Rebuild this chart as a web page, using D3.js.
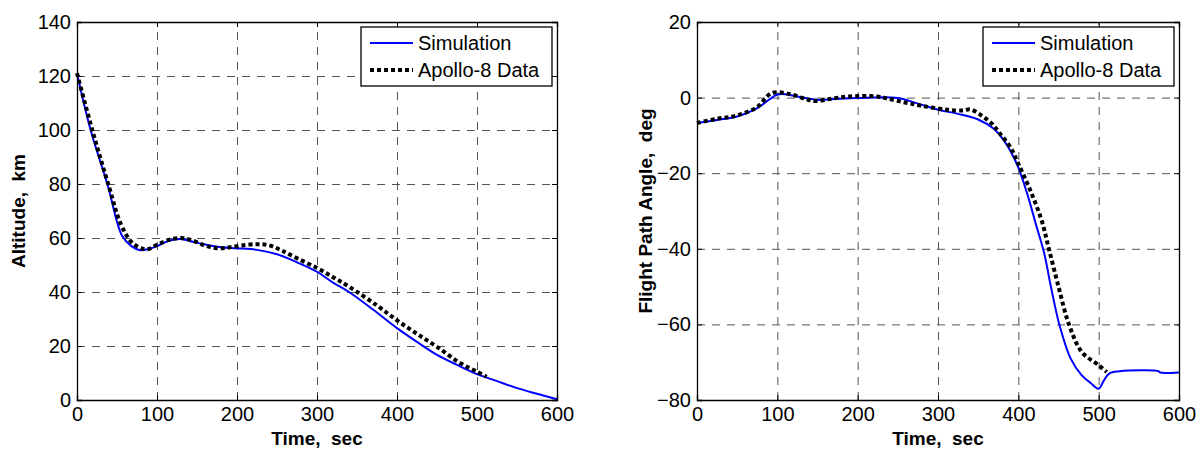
<!DOCTYPE html>
<html>
<head>
<meta charset="utf-8">
<script src="https://cdn.jsdelivr.net/npm/d3@7"></script>
<style>
    body { margin: 0; background: #fff; }
    svg { display: block; font-family: Arial, "Liberation Sans", sans-serif; }
</style>
</head>
<body>
<svg id="chart" width="1200" height="450"></svg>
<script>
// Altitude panel (left)
const altSimTime = [0, 17, 38, 56, 68, 79, 90, 100, 115, 129, 145, 160, 180, 200, 225, 250, 275, 300, 320, 340, 370, 400, 425, 450, 475, 500, 525, 550, 575, 600];
const altSimValue = [121, 100, 80, 61, 57, 55.5, 56, 57, 59, 59.6, 58.6, 57.6, 56.6, 56.2, 55.6, 54, 51, 47.5, 43.5, 40, 33.5, 26.6, 21.5, 16.7, 13, 9.6, 7, 4.4, 2.3, 0.3];
const altApolloTime = [0, 20, 40, 55, 70, 87, 100, 115, 130, 145, 160, 175, 190, 205, 225, 240, 255, 275, 300, 320, 340, 375, 400, 425, 450, 480, 500, 512];
const altApolloValue = [121, 99, 79, 65, 58, 55.8, 57.5, 59.3, 60, 59, 57.2, 56.2, 56.5, 57.2, 57.7, 57.3, 55.5, 52.5, 48.9, 45.5, 42, 35, 29.5, 24.5, 19.7, 13.5, 10.5, 8.6];

// Flight path angle panel (right)
const fpaSimTime = [0, 25, 50, 75, 90, 100, 110, 125, 150, 175, 200, 250, 275, 300, 325, 350, 369, 382, 398, 411, 422, 432, 441, 451, 465, 479, 490, 500, 506, 513, 526, 575, 576, 600];
const fpaSimValue = [-6.7, -5.9, -5, -2.8, -0.5, 0.8, 0.9, 0.3, -0.6, -0.3, -0.1, -0.1, -1.6, -3.2, -4.3, -5.8, -8.2, -11.3, -17.5, -25.4, -33.6, -41, -50.5, -60, -69, -73.5, -75.5, -77, -75, -73, -72.4, -72.4, -72.7, -72.7];
const fpaApolloTime = [0, 25, 50, 75, 93, 116, 137, 147, 170, 190, 224, 236, 257, 278, 311, 332, 340, 354, 367, 377, 390, 400, 415, 429, 438, 450, 463, 479, 500, 510];
const fpaApolloValue = [-6.7, -5.6, -4.7, -2.5, 1.2, 0.9, -0.5, -0.9, -0.2, 0.3, 0.3, -0.2, -1.2, -2.1, -3.2, -3.4, -3.1, -4.7, -6.9, -9.5, -13.1, -17.5, -24.6, -32.5, -40, -50, -60, -67.3, -70.8, -72.6];

const timeTicks = [0, 100, 200, 300, 400, 500, 600];
const altTicks = [0, 20, 40, 60, 80, 100, 120, 140];
const fpaTicks = [-80, -60, -40, -20, 0, 20];
const legendLabels = ['Simulation', 'Apollo-8 Data'];

const svgEl = d3.select('#chart');

const drawPanel = ({ left, top, width, height, yDomain, yTicks, yLabel, yLabelX, sim, apollo }) => {
    const xScale = d3.scaleLinear().domain([0, 600]).range([0, width]);
    const yScale = d3.scaleLinear().domain(yDomain).range([height, 0]);

    const svg = svgEl.append('g').attr('transform', `translate(${left},${top})`);

    // dashed grid
    const xGrid = svg.append('g')
        .attr('transform', `translate(0,${height})`)
        .call(d3.axisBottom(xScale).tickValues(timeTicks).tickSize(-height).tickFormat(''));
    const yGrid = svg.append('g')
        .call(d3.axisLeft(yScale).tickValues(yTicks).tickSize(-width).tickFormat(''));
    [xGrid, yGrid].forEach((g) => {
        g.select('.domain').remove();
        g.selectAll('line')
            .attr('stroke', '#555')
            .attr('stroke-dasharray', '8,7');
    });

    // data lines
    const line = d3.line()
        .x((d) => xScale(d[0]))
        .y((d) => yScale(d[1]))
        .curve(d3.curveCatmullRom.alpha(0.5));

    svg.append('path')
        .attr('d', line(d3.zip(sim[0], sim[1])))
        .attr('fill', 'none')
        .attr('stroke', '#0000ff')
        .attr('stroke-width', 2);

    svg.append('path')
        .attr('d', line(d3.zip(apollo[0], apollo[1])))
        .attr('fill', 'none')
        .attr('stroke', '#000')
        .attr('stroke-width', 4)
        .attr('stroke-dasharray', '4,3');

    // axes with inward ticks on all four sides
    const axes = [
        svg.append('g').attr('transform', `translate(0,${height})`)
            .call(d3.axisBottom(xScale).tickValues(timeTicks).tickSize(-5).tickPadding(7)),
        svg.append('g')
            .call(d3.axisLeft(yScale).tickValues(yTicks).tickSize(-5).tickPadding(6)),
        svg.append('g')
            .call(d3.axisTop(xScale).tickValues(timeTicks).tickSize(-5).tickFormat('')),
        svg.append('g').attr('transform', `translate(${width},0)`)
            .call(d3.axisRight(yScale).tickValues(yTicks).tickSize(-5).tickFormat('')),
    ];
    axes.forEach((g) => {
        g.select('.domain').attr('stroke', '#000').attr('stroke-width', 1.3);
        g.selectAll('line').attr('stroke', '#000');
        g.selectAll('text')
            .attr('font-family', 'Arial, "Liberation Sans", sans-serif')
            .attr('font-size', 20)
            .attr('fill', '#000');
    });

    // axis titles
    svg.append('text')
        .attr('x', width / 2)
        .attr('y', height + 45)
        .attr('text-anchor', 'middle')
        .attr('font-size', 19)
        .attr('font-weight', 'bold')
        .attr('xml:space', 'preserve')
        .text('Time,  sec');

    svg.append('text')
        .attr('transform', `translate(${yLabelX - left},${height / 2}) rotate(-90)`)
        .attr('text-anchor', 'middle')
        .attr('font-size', 19)
        .attr('font-weight', 'bold')
        .attr('xml:space', 'preserve')
        .text(yLabel);

    // legend
    const legend = svg.append('g').attr('transform', `translate(${width - 196},5)`);
    legend.append('rect')
        .attr('width', 191)
        .attr('height', 59)
        .attr('fill', '#fff')
        .attr('stroke', '#000')
        .attr('stroke-width', 1.3);
    legendLabels.forEach((label, i) => {
        const y = 16 + i * 27;
        legend.append('line')
            .attr('x1', 9).attr('x2', 52)
            .attr('y1', y).attr('y2', y)
            .attr('stroke', i === 0 ? '#0000ff' : '#000')
            .attr('stroke-width', i === 0 ? 2 : 4)
            .attr('stroke-dasharray', i === 0 ? null : '4,3');
        legend.append('text')
            .attr('x', 57)
            .attr('y', y + 7)
            .attr('font-size', 20)
            .text(label);
    });
};

drawPanel({
    left: 77, top: 22, width: 480, height: 378,
    yDomain: [0, 140], yTicks: altTicks,
    yLabel: 'Altitude,  km', yLabelX: 25,
    sim: [altSimTime, altSimValue],
    apollo: [altApolloTime, altApolloValue],
});

drawPanel({
    left: 697, top: 22, width: 482, height: 378,
    yDomain: [-80, 20], yTicks: fpaTicks,
    yLabel: 'Flight Path Angle,  deg', yLabelX: 652,
    sim: [fpaSimTime, fpaSimValue],
    apollo: [fpaApolloTime, fpaApolloValue],
});
</script>
</body>
</html>
